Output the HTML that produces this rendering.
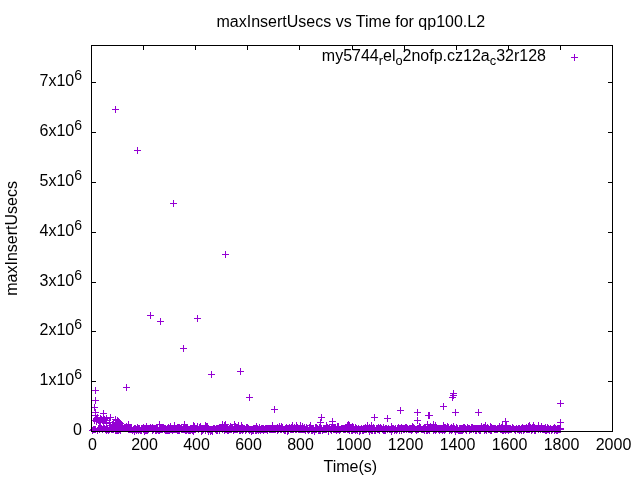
<!DOCTYPE html><html><head><meta charset="utf-8"><style>html,body{margin:0;padding:0;background:#fff;width:640px;height:480px;overflow:hidden}svg{display:block;will-change:transform}text{font-family:"Liberation Sans",sans-serif;font-size:16px;fill:#000}</style></head><body>
<svg width="640" height="480" viewBox="0 0 640 480">
<rect width="640" height="480" fill="#fff"/>
<path d="M91.5 431v-4M91.5 46v4M143.5 431v-4M143.5 46v4M195.5 431v-4M195.5 46v4M247.5 431v-4M247.5 46v4M299.5 431v-4M299.5 46v4M352.5 431v-4M352.5 46v4M404.5 431v-4M404.5 46v4M456.5 431v-4M456.5 46v4M508.5 431v-4M508.5 46v4M560.5 431v-4M560.5 46v4M612.5 431v-4M612.5 46v4M92 431.5h4M612 431.5h-4M92 381.5h4M612 381.5h-4M92 331.5h4M612 331.5h-4M92 282.5h4M612 282.5h-4M92 232.5h4M612 232.5h-4M92 182.5h4M612 182.5h-4M92 132.5h4M612 132.5h-4M92 82.5h4M612 82.5h-4" stroke="#000" stroke-width="1" fill="none" shape-rendering="crispEdges"/>
<path d="M112 109.5h7M115.5 106v7M134 150.5h7M137.5 147v7M170 203.5h7M173.5 200v7M222 254.5h7M225.5 251v7M147 315.5h7M150.5 312v7M157 321.5h7M160.5 318v7M194 318.5h7M197.5 315v7M180 348.5h7M183.5 345v7M208 374.5h7M211.5 371v7M237 371.5h7M240.5 368v7M246 397.5h7M249.5 394v7M271 409.5h7M274.5 406v7M123 387.5h7M126.5 384v7M92 390.5h7M95.5 387v7M92 400.5h7M95.5 397v7M91 407.5h7M94.5 404v7M318 417.5h7M321.5 414v7M317 422.5h7M320.5 419v7M329 421.5h7M332.5 418v7M329 424.5h7M332.5 421v7M345 424.5h7M348.5 421v7M371 417.5h7M374.5 414v7M384 418.5h7M387.5 415v7M397 410.5h7M400.5 407v7M414 412.5h7M417.5 409v7M414 420.5h7M417.5 417v7M425 415.5h7M428.5 412v7M426 415.5h7M429.5 412v7M440 406.5h7M443.5 403v7M450 393.5h7M453.5 390v7M450 395.5h7M453.5 392v7M449 397.5h7M452.5 394v7M452 412.5h7M455.5 409v7M475 412.5h7M478.5 409v7M502 421.5h7M505.5 418v7M557 403.5h7M560.5 400v7M557 422.5h7M560.5 419v7M92 412.5h7M95.5 409v7M92 415.5h7M95.5 412v7M94 417.5h7M97.5 414v7M100 413.5h7M103.5 410v7M107 417.5h7M110.5 414v7M112 419.5h7M115.5 416v7M114 420.5h7M117.5 417v7M115 421.5h7M118.5 418v7M116 422.5h7M119.5 419v7M117 423.5h7M120.5 420v7M93 418.5h7M96.5 415v7M97 418.5h7M100.5 415v7M100 418.5h7M103.5 415v7M93 419.5h7M96.5 416v7M98 419.5h7M101.5 416v7M101 419.5h7M104.5 416v7M102 420.5h7M105.5 417v7M93 421.5h7M96.5 418v7M97 421.5h7M100.5 418v7M100 421.5h7M103.5 418v7M91 420.5h7M94.5 417v7M95 420.5h7M98.5 417v7M99 420.5h7M102.5 417v7M103 418.5h7M106.5 415v7M96 422.5h7M99.5 419v7M103 423.5h7M106.5 420v7M106 422.5h7M109.5 419v7M110 422.5h7M113.5 419v7M112 422.5h7M115.5 419v7M109 424.5h7M112.5 421v7M113 424.5h7M116.5 421v7M107 425.5h7M110.5 422v7M111 426.5h7M114.5 423v7M118 425.5h7M121.5 422v7M115 427.5h7M118.5 424v7M119 426.5h7M122.5 423v7M121 427.5h7M124.5 424v7M89 430.5h7M92.5 427v7M90 429.5h7M93.5 426v7M91 429.5h7M94.5 426v7M92 429.5h7M95.5 426v7M94 430.5h7M97.5 427v7M95 428.5h7M98.5 425v7M96 429.5h7M99.5 426v7M96 429.5h7M99.5 426v7M97 428.5h7M100.5 425v7M98 428.5h7M101.5 425v7M99 429.5h7M102.5 426v7M100 428.5h7M103.5 425v7M101 428.5h7M104.5 425v7M102 429.5h7M105.5 426v7M103 430.5h7M106.5 427v7M103 428.5h7M106.5 425v7M104 429.5h7M107.5 426v7M105 430.5h7M108.5 427v7M106 429.5h7M109.5 426v7M107 428.5h7M110.5 425v7M107 428.5h7M110.5 425v7M108 429.5h7M111.5 426v7M108 427.5h7M111.5 424v7M109 429.5h7M112.5 426v7M110 429.5h7M113.5 426v7M111 427.5h7M114.5 424v7M111 428.5h7M114.5 425v7M112 430.5h7M115.5 427v7M112 428.5h7M115.5 425v7M113 429.5h7M116.5 426v7M113 430.5h7M116.5 427v7M114 430.5h7M117.5 427v7M115 430.5h7M118.5 427v7M115 424.5h7M118.5 421v7M116 429.5h7M119.5 426v7M117 430.5h7M120.5 427v7M117 425.5h7M120.5 422v7M119 427.5h7M122.5 424v7M120 428.5h7M123.5 425v7M122 428.5h7M125.5 425v7M123 426.5h7M126.5 423v7M123 428.5h7M126.5 425v7M124 428.5h7M127.5 425v7M124 428.5h7M127.5 425v7M125 428.5h7M128.5 425v7M125 429.5h7M128.5 426v7M125 424.5h7M128.5 421v7M126 428.5h7M129.5 425v7M126 429.5h7M129.5 426v7M127 428.5h7M130.5 425v7M127 429.5h7M130.5 426v7M128 428.5h7M131.5 425v7M128 429.5h7M131.5 426v7M129 430.5h7M132.5 427v7M129 430.5h7M132.5 427v7M130 429.5h7M133.5 426v7M130 429.5h7M133.5 426v7M131 428.5h7M134.5 425v7M131 431.5h7M134.5 428v7M132 429.5h7M135.5 426v7M132 428.5h7M135.5 425v7M133 430.5h7M136.5 427v7M133 429.5h7M136.5 426v7M134 429.5h7M137.5 426v7M134 427.5h7M137.5 424v7M135 428.5h7M138.5 425v7M135 430.5h7M138.5 427v7M136 428.5h7M139.5 425v7M136 429.5h7M139.5 426v7M137 430.5h7M140.5 427v7M137 430.5h7M140.5 427v7M138 430.5h7M141.5 427v7M138 428.5h7M141.5 425v7M139 428.5h7M142.5 425v7M139 428.5h7M142.5 425v7M140 429.5h7M143.5 426v7M140 427.5h7M143.5 424v7M141 428.5h7M144.5 425v7M141 431.5h7M144.5 428v7M142 428.5h7M145.5 425v7M142 430.5h7M145.5 427v7M143 430.5h7M146.5 427v7M143 426.5h7M146.5 423v7M144 428.5h7M147.5 425v7M144 430.5h7M147.5 427v7M145 429.5h7M148.5 426v7M145 428.5h7M148.5 425v7M146 428.5h7M149.5 425v7M146 428.5h7M149.5 425v7M147 428.5h7M150.5 425v7M147 427.5h7M150.5 424v7M148 428.5h7M151.5 425v7M148 428.5h7M151.5 425v7M149 427.5h7M152.5 424v7M149 430.5h7M152.5 427v7M150 429.5h7M153.5 426v7M150 428.5h7M153.5 425v7M151 428.5h7M154.5 425v7M151 428.5h7M154.5 425v7M152 430.5h7M155.5 427v7M152 428.5h7M155.5 425v7M153 430.5h7M156.5 427v7M153 428.5h7M156.5 425v7M154 429.5h7M157.5 426v7M154 428.5h7M157.5 425v7M155 430.5h7M158.5 427v7M155 430.5h7M158.5 427v7M156 430.5h7M159.5 427v7M156 429.5h7M159.5 426v7M156 424.5h7M159.5 421v7M157 429.5h7M160.5 426v7M157 428.5h7M160.5 425v7M158 429.5h7M161.5 426v7M158 428.5h7M161.5 425v7M159 428.5h7M162.5 425v7M159 429.5h7M162.5 426v7M160 428.5h7M163.5 425v7M160 427.5h7M163.5 424v7M161 429.5h7M164.5 426v7M161 428.5h7M164.5 425v7M162 428.5h7M165.5 425v7M162 430.5h7M165.5 427v7M163 429.5h7M166.5 426v7M163 430.5h7M166.5 427v7M164 430.5h7M167.5 427v7M164 428.5h7M167.5 425v7M165 427.5h7M168.5 424v7M165 430.5h7M168.5 427v7M166 428.5h7M169.5 425v7M166 430.5h7M169.5 427v7M167 426.5h7M170.5 423v7M167 429.5h7M170.5 426v7M168 429.5h7M171.5 426v7M168 429.5h7M171.5 426v7M169 428.5h7M172.5 425v7M169 430.5h7M172.5 427v7M170 428.5h7M173.5 425v7M170 429.5h7M173.5 426v7M171 429.5h7M174.5 426v7M171 428.5h7M174.5 425v7M171 425.5h7M174.5 422v7M172 429.5h7M175.5 426v7M172 428.5h7M175.5 425v7M173 428.5h7M176.5 425v7M173 429.5h7M176.5 426v7M174 430.5h7M177.5 427v7M174 427.5h7M177.5 424v7M175 427.5h7M178.5 424v7M175 430.5h7M178.5 427v7M176 427.5h7M179.5 424v7M176 430.5h7M179.5 427v7M177 428.5h7M180.5 425v7M177 428.5h7M180.5 425v7M178 427.5h7M181.5 424v7M178 429.5h7M181.5 426v7M179 429.5h7M182.5 426v7M179 429.5h7M182.5 426v7M180 429.5h7M183.5 426v7M180 428.5h7M183.5 425v7M181 427.5h7M184.5 424v7M181 429.5h7M184.5 426v7M181 424.5h7M184.5 421v7M182 428.5h7M185.5 425v7M182 430.5h7M185.5 427v7M183 430.5h7M186.5 427v7M183 428.5h7M186.5 425v7M184 429.5h7M187.5 426v7M184 428.5h7M187.5 425v7M185 429.5h7M188.5 426v7M185 430.5h7M188.5 427v7M186 429.5h7M189.5 426v7M186 430.5h7M189.5 427v7M187 430.5h7M190.5 427v7M187 429.5h7M190.5 426v7M188 429.5h7M191.5 426v7M188 428.5h7M191.5 425v7M189 429.5h7M192.5 426v7M189 430.5h7M192.5 427v7M190 431.5h7M193.5 428v7M190 429.5h7M193.5 426v7M190 425.5h7M193.5 422v7M191 429.5h7M194.5 426v7M191 426.5h7M194.5 423v7M192 429.5h7M195.5 426v7M192 429.5h7M195.5 426v7M193 428.5h7M196.5 425v7M193 428.5h7M196.5 425v7M194 427.5h7M197.5 424v7M194 426.5h7M197.5 423v7M195 429.5h7M198.5 426v7M195 429.5h7M198.5 426v7M196 427.5h7M199.5 424v7M196 428.5h7M199.5 425v7M197 426.5h7M200.5 423v7M197 426.5h7M200.5 423v7M198 431.5h7M201.5 428v7M198 428.5h7M201.5 425v7M199 429.5h7M202.5 426v7M199 430.5h7M202.5 427v7M200 429.5h7M203.5 426v7M200 429.5h7M203.5 426v7M201 428.5h7M204.5 425v7M201 428.5h7M204.5 425v7M202 430.5h7M205.5 427v7M202 429.5h7M205.5 426v7M202 425.5h7M205.5 422v7M203 427.5h7M206.5 424v7M203 426.5h7M206.5 423v7M204 429.5h7M207.5 426v7M204 426.5h7M207.5 423v7M205 429.5h7M208.5 426v7M205 431.5h7M208.5 428v7M206 429.5h7M209.5 426v7M206 429.5h7M209.5 426v7M207 429.5h7M210.5 426v7M207 431.5h7M210.5 428v7M208 430.5h7M211.5 427v7M208 429.5h7M211.5 426v7M209 431.5h7M212.5 428v7M209 429.5h7M212.5 426v7M210 428.5h7M213.5 425v7M210 428.5h7M213.5 425v7M211 428.5h7M214.5 425v7M211 428.5h7M214.5 425v7M212 429.5h7M215.5 426v7M212 429.5h7M215.5 426v7M213 430.5h7M216.5 427v7M213 428.5h7M216.5 425v7M214 430.5h7M217.5 427v7M214 428.5h7M217.5 425v7M215 428.5h7M218.5 425v7M215 428.5h7M218.5 425v7M216 430.5h7M219.5 427v7M216 428.5h7M219.5 425v7M217 428.5h7M220.5 425v7M217 428.5h7M220.5 425v7M218 428.5h7M221.5 425v7M218 427.5h7M221.5 424v7M219 428.5h7M222.5 425v7M219 429.5h7M222.5 426v7M219 424.5h7M222.5 421v7M220 428.5h7M223.5 425v7M220 427.5h7M223.5 424v7M221 429.5h7M224.5 426v7M221 430.5h7M224.5 427v7M221 425.5h7M224.5 422v7M222 428.5h7M225.5 425v7M222 429.5h7M225.5 426v7M222 424.5h7M225.5 421v7M223 428.5h7M226.5 425v7M223 429.5h7M226.5 426v7M224 428.5h7M227.5 425v7M224 430.5h7M227.5 427v7M225 429.5h7M228.5 426v7M225 430.5h7M228.5 427v7M226 428.5h7M229.5 425v7M226 429.5h7M229.5 426v7M227 426.5h7M230.5 423v7M227 429.5h7M230.5 426v7M228 429.5h7M231.5 426v7M228 428.5h7M231.5 425v7M229 428.5h7M232.5 425v7M229 428.5h7M232.5 425v7M230 430.5h7M233.5 427v7M230 429.5h7M233.5 426v7M231 429.5h7M234.5 426v7M231 428.5h7M234.5 425v7M231 424.5h7M234.5 421v7M232 429.5h7M235.5 426v7M232 426.5h7M235.5 423v7M233 429.5h7M236.5 426v7M233 429.5h7M236.5 426v7M234 429.5h7M237.5 426v7M234 429.5h7M237.5 426v7M235 425.5h7M238.5 422v7M235 428.5h7M238.5 425v7M236 430.5h7M239.5 427v7M236 429.5h7M239.5 426v7M237 430.5h7M240.5 427v7M237 429.5h7M240.5 426v7M238 425.5h7M241.5 422v7M238 429.5h7M241.5 426v7M239 427.5h7M242.5 424v7M239 430.5h7M242.5 427v7M240 428.5h7M243.5 425v7M240 429.5h7M243.5 426v7M241 428.5h7M244.5 425v7M241 428.5h7M244.5 425v7M242 430.5h7M245.5 427v7M242 429.5h7M245.5 426v7M243 427.5h7M246.5 424v7M243 429.5h7M246.5 426v7M244 427.5h7M247.5 424v7M244 428.5h7M247.5 425v7M245 428.5h7M248.5 425v7M245 429.5h7M248.5 426v7M246 430.5h7M249.5 427v7M246 429.5h7M249.5 426v7M247 429.5h7M250.5 426v7M247 429.5h7M250.5 426v7M248 429.5h7M251.5 426v7M248 431.5h7M251.5 428v7M249 429.5h7M252.5 426v7M249 430.5h7M252.5 427v7M250 428.5h7M253.5 425v7M250 430.5h7M253.5 427v7M251 428.5h7M254.5 425v7M251 428.5h7M254.5 425v7M252 430.5h7M255.5 427v7M252 428.5h7M255.5 425v7M253 430.5h7M256.5 427v7M253 426.5h7M256.5 423v7M254 429.5h7M257.5 426v7M254 428.5h7M257.5 425v7M255 429.5h7M258.5 426v7M255 430.5h7M258.5 427v7M256 429.5h7M259.5 426v7M256 427.5h7M259.5 424v7M257 429.5h7M260.5 426v7M257 430.5h7M260.5 427v7M258 429.5h7M261.5 426v7M258 428.5h7M261.5 425v7M259 428.5h7M262.5 425v7M259 429.5h7M262.5 426v7M260 428.5h7M263.5 425v7M260 430.5h7M263.5 427v7M261 429.5h7M264.5 426v7M261 429.5h7M264.5 426v7M262 428.5h7M265.5 425v7M262 429.5h7M265.5 426v7M263 429.5h7M266.5 426v7M263 428.5h7M266.5 425v7M264 428.5h7M267.5 425v7M264 430.5h7M267.5 427v7M265 428.5h7M268.5 425v7M265 428.5h7M268.5 425v7M266 429.5h7M269.5 426v7M266 428.5h7M269.5 425v7M267 428.5h7M270.5 425v7M267 429.5h7M270.5 426v7M268 428.5h7M271.5 425v7M268 429.5h7M271.5 426v7M269 428.5h7M272.5 425v7M269 429.5h7M272.5 426v7M269 425.5h7M272.5 422v7M270 429.5h7M273.5 426v7M270 428.5h7M273.5 425v7M271 429.5h7M274.5 426v7M271 428.5h7M274.5 425v7M272 428.5h7M275.5 425v7M272 429.5h7M275.5 426v7M273 428.5h7M276.5 425v7M273 428.5h7M276.5 425v7M274 430.5h7M277.5 427v7M274 427.5h7M277.5 424v7M275 428.5h7M278.5 425v7M275 429.5h7M278.5 426v7M276 428.5h7M279.5 425v7M276 426.5h7M279.5 423v7M277 429.5h7M280.5 426v7M277 428.5h7M280.5 425v7M278 426.5h7M281.5 423v7M278 429.5h7M281.5 426v7M279 427.5h7M282.5 424v7M279 427.5h7M282.5 424v7M280 429.5h7M283.5 426v7M280 429.5h7M283.5 426v7M281 429.5h7M284.5 426v7M281 430.5h7M284.5 427v7M282 430.5h7M285.5 427v7M282 428.5h7M285.5 425v7M283 428.5h7M286.5 425v7M283 427.5h7M286.5 424v7M284 428.5h7M287.5 425v7M284 431.5h7M287.5 428v7M285 428.5h7M288.5 425v7M285 430.5h7M288.5 427v7M286 427.5h7M289.5 424v7M286 428.5h7M289.5 425v7M287 429.5h7M290.5 426v7M287 428.5h7M290.5 425v7M288 429.5h7M291.5 426v7M288 427.5h7M291.5 424v7M289 429.5h7M292.5 426v7M289 428.5h7M292.5 425v7M289 425.5h7M292.5 422v7M290 429.5h7M293.5 426v7M290 429.5h7M293.5 426v7M291 428.5h7M294.5 425v7M291 427.5h7M294.5 424v7M292 429.5h7M295.5 426v7M292 429.5h7M295.5 426v7M293 428.5h7M296.5 425v7M293 429.5h7M296.5 426v7M293 425.5h7M296.5 422v7M294 427.5h7M297.5 424v7M294 428.5h7M297.5 425v7M295 429.5h7M298.5 426v7M295 429.5h7M298.5 426v7M296 429.5h7M299.5 426v7M296 428.5h7M299.5 425v7M297 429.5h7M300.5 426v7M297 429.5h7M300.5 426v7M297 425.5h7M300.5 422v7M298 428.5h7M301.5 425v7M298 429.5h7M301.5 426v7M299 426.5h7M302.5 423v7M299 429.5h7M302.5 426v7M300 429.5h7M303.5 426v7M300 429.5h7M303.5 426v7M301 429.5h7M304.5 426v7M301 427.5h7M304.5 424v7M302 430.5h7M305.5 427v7M302 429.5h7M305.5 426v7M303 428.5h7M306.5 425v7M303 427.5h7M306.5 424v7M304 429.5h7M307.5 426v7M304 429.5h7M307.5 426v7M305 430.5h7M308.5 427v7M305 430.5h7M308.5 427v7M306 429.5h7M309.5 426v7M306 427.5h7M309.5 424v7M307 428.5h7M310.5 425v7M307 425.5h7M310.5 422v7M308 429.5h7M311.5 426v7M308 430.5h7M311.5 427v7M309 428.5h7M312.5 425v7M309 430.5h7M312.5 427v7M310 429.5h7M313.5 426v7M310 429.5h7M313.5 426v7M311 430.5h7M314.5 427v7M311 431.5h7M314.5 428v7M312 429.5h7M315.5 426v7M312 427.5h7M315.5 424v7M313 427.5h7M316.5 424v7M313 429.5h7M316.5 426v7M314 428.5h7M317.5 425v7M314 428.5h7M317.5 425v7M315 430.5h7M318.5 427v7M315 429.5h7M318.5 426v7M316 427.5h7M319.5 424v7M316 430.5h7M319.5 427v7M317 427.5h7M320.5 424v7M317 430.5h7M320.5 427v7M318 428.5h7M321.5 425v7M318 428.5h7M321.5 425v7M319 430.5h7M322.5 427v7M319 430.5h7M322.5 427v7M320 429.5h7M323.5 426v7M320 428.5h7M323.5 425v7M321 429.5h7M324.5 426v7M321 429.5h7M324.5 426v7M322 428.5h7M325.5 425v7M322 429.5h7M325.5 426v7M323 429.5h7M326.5 426v7M323 429.5h7M326.5 426v7M323 425.5h7M326.5 422v7M324 427.5h7M327.5 424v7M324 428.5h7M327.5 425v7M325 431.5h7M328.5 428v7M325 429.5h7M328.5 426v7M326 427.5h7M329.5 424v7M326 427.5h7M329.5 424v7M327 429.5h7M330.5 426v7M327 429.5h7M330.5 426v7M328 427.5h7M331.5 424v7M328 430.5h7M331.5 427v7M329 428.5h7M332.5 425v7M329 428.5h7M332.5 425v7M330 428.5h7M333.5 425v7M330 429.5h7M333.5 426v7M331 429.5h7M334.5 426v7M331 428.5h7M334.5 425v7M332 429.5h7M335.5 426v7M332 428.5h7M335.5 425v7M333 430.5h7M336.5 427v7M333 430.5h7M336.5 427v7M334 429.5h7M337.5 426v7M334 426.5h7M337.5 423v7M335 426.5h7M338.5 423v7M335 429.5h7M338.5 426v7M336 430.5h7M339.5 427v7M336 429.5h7M339.5 426v7M337 429.5h7M340.5 426v7M337 429.5h7M340.5 426v7M338 428.5h7M341.5 425v7M338 428.5h7M341.5 425v7M339 428.5h7M342.5 425v7M339 428.5h7M342.5 425v7M340 428.5h7M343.5 425v7M340 429.5h7M343.5 426v7M341 429.5h7M344.5 426v7M341 428.5h7M344.5 425v7M342 429.5h7M345.5 426v7M342 429.5h7M345.5 426v7M343 427.5h7M346.5 424v7M343 428.5h7M346.5 425v7M344 429.5h7M347.5 426v7M344 425.5h7M347.5 422v7M345 429.5h7M348.5 426v7M345 428.5h7M348.5 425v7M346 425.5h7M349.5 422v7M346 430.5h7M349.5 427v7M347 428.5h7M350.5 425v7M347 428.5h7M350.5 425v7M348 430.5h7M351.5 427v7M348 429.5h7M351.5 426v7M349 430.5h7M352.5 427v7M349 426.5h7M352.5 423v7M350 427.5h7M353.5 424v7M350 429.5h7M353.5 426v7M351 429.5h7M354.5 426v7M351 429.5h7M354.5 426v7M352 427.5h7M355.5 424v7M352 430.5h7M355.5 427v7M353 428.5h7M356.5 425v7M353 429.5h7M356.5 426v7M354 430.5h7M357.5 427v7M354 429.5h7M357.5 426v7M355 428.5h7M358.5 425v7M355 428.5h7M358.5 425v7M356 431.5h7M359.5 428v7M356 429.5h7M359.5 426v7M357 430.5h7M360.5 427v7M357 429.5h7M360.5 426v7M358 428.5h7M361.5 425v7M358 428.5h7M361.5 425v7M359 430.5h7M362.5 427v7M359 429.5h7M362.5 426v7M360 428.5h7M363.5 425v7M360 430.5h7M363.5 427v7M361 428.5h7M364.5 425v7M361 429.5h7M364.5 426v7M362 429.5h7M365.5 426v7M362 427.5h7M365.5 424v7M363 428.5h7M366.5 425v7M363 429.5h7M366.5 426v7M364 428.5h7M367.5 425v7M364 425.5h7M367.5 422v7M365 429.5h7M368.5 426v7M365 428.5h7M368.5 425v7M366 431.5h7M369.5 428v7M366 427.5h7M369.5 424v7M367 428.5h7M370.5 425v7M367 429.5h7M370.5 426v7M368 429.5h7M371.5 426v7M368 430.5h7M371.5 427v7M368 425.5h7M371.5 422v7M369 430.5h7M372.5 427v7M369 428.5h7M372.5 425v7M370 428.5h7M373.5 425v7M370 427.5h7M373.5 424v7M371 430.5h7M374.5 427v7M371 429.5h7M374.5 426v7M372 430.5h7M375.5 427v7M372 430.5h7M375.5 427v7M373 428.5h7M376.5 425v7M373 428.5h7M376.5 425v7M374 429.5h7M377.5 426v7M374 428.5h7M377.5 425v7M375 427.5h7M378.5 424v7M375 429.5h7M378.5 426v7M376 428.5h7M379.5 425v7M376 430.5h7M379.5 427v7M377 428.5h7M380.5 425v7M377 427.5h7M380.5 424v7M378 428.5h7M381.5 425v7M378 428.5h7M381.5 425v7M379 429.5h7M382.5 426v7M379 429.5h7M382.5 426v7M380 430.5h7M383.5 427v7M380 427.5h7M383.5 424v7M381 429.5h7M384.5 426v7M381 430.5h7M384.5 427v7M382 428.5h7M385.5 425v7M382 430.5h7M385.5 427v7M383 428.5h7M386.5 425v7M383 428.5h7M386.5 425v7M384 429.5h7M387.5 426v7M384 429.5h7M387.5 426v7M385 428.5h7M388.5 425v7M385 428.5h7M388.5 425v7M386 429.5h7M389.5 426v7M386 429.5h7M389.5 426v7M387 429.5h7M390.5 426v7M387 429.5h7M390.5 426v7M388 431.5h7M391.5 428v7M388 426.5h7M391.5 423v7M389 429.5h7M392.5 426v7M389 428.5h7M392.5 425v7M390 428.5h7M393.5 425v7M390 428.5h7M393.5 425v7M391 430.5h7M394.5 427v7M391 429.5h7M394.5 426v7M392 428.5h7M395.5 425v7M392 429.5h7M395.5 426v7M393 430.5h7M396.5 427v7M393 430.5h7M396.5 427v7M394 429.5h7M397.5 426v7M394 428.5h7M397.5 425v7M395 428.5h7M398.5 425v7M395 427.5h7M398.5 424v7M396 428.5h7M399.5 425v7M396 430.5h7M399.5 427v7M397 428.5h7M400.5 425v7M397 428.5h7M400.5 425v7M398 430.5h7M401.5 427v7M398 427.5h7M401.5 424v7M399 428.5h7M402.5 425v7M399 428.5h7M402.5 425v7M400 428.5h7M403.5 425v7M400 429.5h7M403.5 426v7M401 428.5h7M404.5 425v7M401 429.5h7M404.5 426v7M402 428.5h7M405.5 425v7M402 427.5h7M405.5 424v7M403 429.5h7M406.5 426v7M403 427.5h7M406.5 424v7M404 428.5h7M407.5 425v7M404 428.5h7M407.5 425v7M405 429.5h7M408.5 426v7M405 429.5h7M408.5 426v7M406 428.5h7M409.5 425v7M406 429.5h7M409.5 426v7M407 429.5h7M410.5 426v7M407 428.5h7M410.5 425v7M408 428.5h7M411.5 425v7M408 430.5h7M411.5 427v7M409 426.5h7M412.5 423v7M409 429.5h7M412.5 426v7M410 428.5h7M413.5 425v7M410 427.5h7M413.5 424v7M411 428.5h7M414.5 425v7M411 428.5h7M414.5 425v7M412 429.5h7M415.5 426v7M412 429.5h7M415.5 426v7M413 430.5h7M416.5 427v7M413 429.5h7M416.5 426v7M414 429.5h7M417.5 426v7M414 428.5h7M417.5 425v7M415 429.5h7M418.5 426v7M415 428.5h7M418.5 425v7M416 426.5h7M419.5 423v7M416 428.5h7M419.5 425v7M417 427.5h7M420.5 424v7M417 428.5h7M420.5 425v7M418 429.5h7M421.5 426v7M418 429.5h7M421.5 426v7M419 429.5h7M422.5 426v7M419 429.5h7M422.5 426v7M420 429.5h7M423.5 426v7M420 428.5h7M423.5 425v7M421 430.5h7M424.5 427v7M421 428.5h7M424.5 425v7M422 428.5h7M425.5 425v7M422 428.5h7M425.5 425v7M423 429.5h7M426.5 426v7M423 430.5h7M426.5 427v7M424 428.5h7M427.5 425v7M424 430.5h7M427.5 427v7M424 424.5h7M427.5 421v7M425 428.5h7M428.5 425v7M425 429.5h7M428.5 426v7M426 430.5h7M429.5 427v7M426 428.5h7M429.5 425v7M427 428.5h7M430.5 425v7M427 426.5h7M430.5 423v7M428 428.5h7M431.5 425v7M428 427.5h7M431.5 424v7M429 428.5h7M432.5 425v7M429 428.5h7M432.5 425v7M430 429.5h7M433.5 426v7M430 430.5h7M433.5 427v7M430 424.5h7M433.5 421v7M431 428.5h7M434.5 425v7M431 429.5h7M434.5 426v7M432 430.5h7M435.5 427v7M432 428.5h7M435.5 425v7M432 425.5h7M435.5 422v7M433 428.5h7M436.5 425v7M433 429.5h7M436.5 426v7M434 428.5h7M437.5 425v7M434 428.5h7M437.5 425v7M435 429.5h7M438.5 426v7M435 428.5h7M438.5 425v7M436 430.5h7M439.5 427v7M436 428.5h7M439.5 425v7M437 428.5h7M440.5 425v7M437 429.5h7M440.5 426v7M438 429.5h7M441.5 426v7M438 429.5h7M441.5 426v7M439 430.5h7M442.5 427v7M439 428.5h7M442.5 425v7M440 425.5h7M443.5 422v7M440 429.5h7M443.5 426v7M441 430.5h7M444.5 427v7M441 427.5h7M444.5 424v7M442 427.5h7M445.5 424v7M442 429.5h7M445.5 426v7M443 428.5h7M446.5 425v7M443 428.5h7M446.5 425v7M444 427.5h7M447.5 424v7M444 426.5h7M447.5 423v7M445 427.5h7M448.5 424v7M445 427.5h7M448.5 424v7M446 429.5h7M449.5 426v7M446 430.5h7M449.5 427v7M447 428.5h7M450.5 425v7M447 429.5h7M450.5 426v7M448 427.5h7M451.5 424v7M448 430.5h7M451.5 427v7M449 428.5h7M452.5 425v7M449 429.5h7M452.5 426v7M450 427.5h7M453.5 424v7M450 426.5h7M453.5 423v7M451 428.5h7M454.5 425v7M451 429.5h7M454.5 426v7M452 431.5h7M455.5 428v7M452 430.5h7M455.5 427v7M453 429.5h7M456.5 426v7M453 427.5h7M456.5 424v7M454 429.5h7M457.5 426v7M454 428.5h7M457.5 425v7M455 430.5h7M458.5 427v7M455 430.5h7M458.5 427v7M456 428.5h7M459.5 425v7M456 430.5h7M459.5 427v7M457 428.5h7M460.5 425v7M457 430.5h7M460.5 427v7M458 428.5h7M461.5 425v7M458 430.5h7M461.5 427v7M459 430.5h7M462.5 427v7M459 428.5h7M462.5 425v7M460 429.5h7M463.5 426v7M460 427.5h7M463.5 424v7M461 428.5h7M464.5 425v7M461 427.5h7M464.5 424v7M462 428.5h7M465.5 425v7M462 429.5h7M465.5 426v7M463 429.5h7M466.5 426v7M463 430.5h7M466.5 427v7M464 427.5h7M467.5 424v7M464 428.5h7M467.5 425v7M465 428.5h7M468.5 425v7M465 428.5h7M468.5 425v7M466 430.5h7M469.5 427v7M466 428.5h7M469.5 425v7M467 429.5h7M470.5 426v7M467 429.5h7M470.5 426v7M468 429.5h7M471.5 426v7M468 427.5h7M471.5 424v7M469 428.5h7M472.5 425v7M469 427.5h7M472.5 424v7M470 428.5h7M473.5 425v7M470 429.5h7M473.5 426v7M471 428.5h7M474.5 425v7M471 428.5h7M474.5 425v7M472 428.5h7M475.5 425v7M472 430.5h7M475.5 427v7M473 430.5h7M476.5 427v7M473 428.5h7M476.5 425v7M474 428.5h7M477.5 425v7M474 428.5h7M477.5 425v7M475 429.5h7M478.5 426v7M475 428.5h7M478.5 425v7M476 428.5h7M479.5 425v7M476 430.5h7M479.5 427v7M477 430.5h7M480.5 427v7M477 428.5h7M480.5 425v7M478 426.5h7M481.5 423v7M478 428.5h7M481.5 425v7M479 428.5h7M482.5 425v7M479 428.5h7M482.5 425v7M480 428.5h7M483.5 425v7M480 427.5h7M483.5 424v7M481 430.5h7M484.5 427v7M481 427.5h7M484.5 424v7M482 429.5h7M485.5 426v7M482 425.5h7M485.5 422v7M483 430.5h7M486.5 427v7M483 429.5h7M486.5 426v7M484 427.5h7M487.5 424v7M484 427.5h7M487.5 424v7M485 429.5h7M488.5 426v7M485 428.5h7M488.5 425v7M486 429.5h7M489.5 426v7M486 429.5h7M489.5 426v7M487 430.5h7M490.5 427v7M487 426.5h7M490.5 423v7M488 427.5h7M491.5 424v7M488 430.5h7M491.5 427v7M489 428.5h7M492.5 425v7M489 428.5h7M492.5 425v7M490 428.5h7M493.5 425v7M490 428.5h7M493.5 425v7M491 429.5h7M494.5 426v7M491 428.5h7M494.5 425v7M492 429.5h7M495.5 426v7M492 428.5h7M495.5 425v7M493 429.5h7M496.5 426v7M493 429.5h7M496.5 426v7M494 428.5h7M497.5 425v7M494 429.5h7M497.5 426v7M495 428.5h7M498.5 425v7M495 428.5h7M498.5 425v7M496 428.5h7M499.5 425v7M496 426.5h7M499.5 423v7M497 428.5h7M500.5 425v7M497 429.5h7M500.5 426v7M498 427.5h7M501.5 424v7M498 429.5h7M501.5 426v7M499 425.5h7M502.5 422v7M499 430.5h7M502.5 427v7M500 429.5h7M503.5 426v7M500 430.5h7M503.5 427v7M501 429.5h7M504.5 426v7M501 429.5h7M504.5 426v7M502 430.5h7M505.5 427v7M502 427.5h7M505.5 424v7M503 427.5h7M506.5 424v7M503 429.5h7M506.5 426v7M503 425.5h7M506.5 422v7M504 428.5h7M507.5 425v7M504 429.5h7M507.5 426v7M505 429.5h7M508.5 426v7M505 430.5h7M508.5 427v7M506 429.5h7M509.5 426v7M506 428.5h7M509.5 425v7M507 429.5h7M510.5 426v7M507 428.5h7M510.5 425v7M508 429.5h7M511.5 426v7M508 429.5h7M511.5 426v7M509 427.5h7M512.5 424v7M509 428.5h7M512.5 425v7M510 428.5h7M513.5 425v7M510 428.5h7M513.5 425v7M511 429.5h7M514.5 426v7M511 429.5h7M514.5 426v7M512 430.5h7M515.5 427v7M512 429.5h7M515.5 426v7M513 428.5h7M516.5 425v7M513 428.5h7M516.5 425v7M514 429.5h7M517.5 426v7M514 429.5h7M517.5 426v7M515 429.5h7M518.5 426v7M515 428.5h7M518.5 425v7M516 430.5h7M519.5 427v7M516 428.5h7M519.5 425v7M517 429.5h7M520.5 426v7M517 429.5h7M520.5 426v7M518 430.5h7M521.5 427v7M518 428.5h7M521.5 425v7M519 428.5h7M522.5 425v7M519 427.5h7M522.5 424v7M520 430.5h7M523.5 427v7M520 428.5h7M523.5 425v7M521 428.5h7M524.5 425v7M521 429.5h7M524.5 426v7M522 428.5h7M525.5 425v7M522 428.5h7M525.5 425v7M523 427.5h7M526.5 424v7M523 429.5h7M526.5 426v7M524 429.5h7M527.5 426v7M524 428.5h7M527.5 425v7M525 426.5h7M528.5 423v7M525 429.5h7M528.5 426v7M526 429.5h7M529.5 426v7M526 429.5h7M529.5 426v7M526 425.5h7M529.5 422v7M527 427.5h7M530.5 424v7M527 428.5h7M530.5 425v7M528 428.5h7M531.5 425v7M528 430.5h7M531.5 427v7M529 429.5h7M532.5 426v7M529 427.5h7M532.5 424v7M530 425.5h7M533.5 422v7M530 427.5h7M533.5 424v7M531 430.5h7M534.5 427v7M531 427.5h7M534.5 424v7M532 428.5h7M535.5 425v7M532 430.5h7M535.5 427v7M533 428.5h7M536.5 425v7M533 428.5h7M536.5 425v7M534 428.5h7M537.5 425v7M534 428.5h7M537.5 425v7M535 429.5h7M538.5 426v7M535 425.5h7M538.5 422v7M536 428.5h7M539.5 425v7M536 428.5h7M539.5 425v7M537 428.5h7M540.5 425v7M537 429.5h7M540.5 426v7M538 428.5h7M541.5 425v7M538 426.5h7M541.5 423v7M539 429.5h7M542.5 426v7M539 428.5h7M542.5 425v7M540 429.5h7M543.5 426v7M540 428.5h7M543.5 425v7M541 429.5h7M544.5 426v7M541 428.5h7M544.5 425v7M542 427.5h7M545.5 424v7M542 430.5h7M545.5 427v7M543 429.5h7M546.5 426v7M543 430.5h7M546.5 427v7M544 429.5h7M547.5 426v7M544 427.5h7M547.5 424v7M545 429.5h7M548.5 426v7M545 428.5h7M548.5 425v7M546 429.5h7M549.5 426v7M546 430.5h7M549.5 427v7M547 428.5h7M550.5 425v7M547 428.5h7M550.5 425v7M548 430.5h7M551.5 427v7M548 429.5h7M551.5 426v7M549 429.5h7M552.5 426v7M549 429.5h7M552.5 426v7M550 428.5h7M553.5 425v7M550 428.5h7M553.5 425v7M551 430.5h7M554.5 427v7M551 427.5h7M554.5 424v7M552 428.5h7M555.5 425v7M552 429.5h7M555.5 426v7M553 429.5h7M556.5 426v7M553 430.5h7M556.5 427v7M554 428.5h7M557.5 425v7M554 430.5h7M557.5 427v7M555 429.5h7M558.5 426v7M555 428.5h7M558.5 425v7M556 428.5h7M559.5 425v7M556 429.5h7M559.5 426v7M557 428.5h7M560.5 425v7M557 429.5h7M560.5 426v7" stroke="#9400d3" stroke-width="1" fill="none" shape-rendering="crispEdges"/>
<path d="M571 57.5h7M574.5 54v7" stroke="#9400d3" stroke-width="1" fill="none" shape-rendering="crispEdges"/>
<path d="M91.5 45.5H612.5V431.5H91.5Z" stroke="#000" stroke-width="1" fill="none" shape-rendering="crispEdges"/>
<text x="82" y="434.8" text-anchor="end">0</text>
<text x="82" y="384.8" text-anchor="end">1x10<tspan font-size="14" dy="-6.1">6</tspan></text>
<text x="82" y="334.8" text-anchor="end">2x10<tspan font-size="14" dy="-6.1">6</tspan></text>
<text x="82" y="285.8" text-anchor="end">3x10<tspan font-size="14" dy="-6.1">6</tspan></text>
<text x="82" y="235.8" text-anchor="end">4x10<tspan font-size="14" dy="-6.1">6</tspan></text>
<text x="82" y="185.8" text-anchor="end">5x10<tspan font-size="14" dy="-6.1">6</tspan></text>
<text x="82" y="135.8" text-anchor="end">6x10<tspan font-size="14" dy="-6.1">6</tspan></text>
<text x="82" y="85.8" text-anchor="end">7x10<tspan font-size="14" dy="-6.1">6</tspan></text>
<text x="92.5" y="449.5" text-anchor="middle">0</text>
<text x="144.5" y="449.5" text-anchor="middle">200</text>
<text x="196.5" y="449.5" text-anchor="middle">400</text>
<text x="248.5" y="449.5" text-anchor="middle">600</text>
<text x="300.5" y="449.5" text-anchor="middle">800</text>
<text x="353.5" y="449.5" text-anchor="middle">1000</text>
<text x="405.5" y="449.5" text-anchor="middle">1200</text>
<text x="457.5" y="449.5" text-anchor="middle">1400</text>
<text x="509.5" y="449.5" text-anchor="middle">1600</text>
<text x="561.5" y="449.5" text-anchor="middle">1800</text>
<text x="613.5" y="449.5" text-anchor="middle">2000</text>
<text x="350.8" y="27" text-anchor="middle">maxInsertUsecs vs Time for qp100.L2</text>
<text x="350.3" y="472" text-anchor="middle">Time(s)</text>
<text transform="translate(17 238.4) rotate(-90)" text-anchor="middle">maxInsertUsecs</text>
<text x="321.8" y="61">my5744<tspan font-size="12.8" dy="3.8">r</tspan><tspan dy="-3.8">el</tspan><tspan font-size="12.8" dy="3.8">o</tspan><tspan dy="-3.8">2nofp.cz12a</tspan><tspan font-size="12.8" dy="3.8">c</tspan><tspan dy="-3.8">32r128</tspan></text>
</svg></body></html>
